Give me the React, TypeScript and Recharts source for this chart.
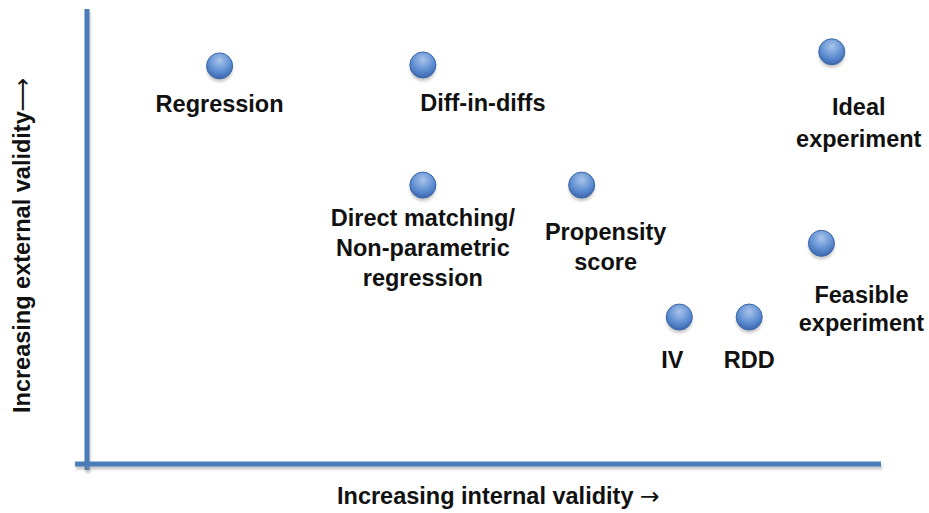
import { ScatterChart, Scatter, XAxis, YAxis, ReferenceLine } from 'recharts'

// methods placed by how much internal / external validity they offer
const METHODS = [
  'Regression',
  'Diff-in-diffs',
  'Ideal\nexperiment',
  'Direct matching/\nNon-parametric\nregression',
  'Propensity\nscore',
  'Feasible\nexperiment',
  'IV',
  'RDD',
]
const INTERNAL = [16.7, 42.3, 93.8, 42.3, 62.3, 92.5, 74.6, 83.4]
const EXTERNAL = [87.5, 87.7, 90.6, 61.3, 61.3, 48.5, 32.3, 32.3]

// label placement relative to its dot (px), first line centre
const LABEL_DX = [0, 60, 27, 0, 24, 40, -7, 0]
const LABEL_DY = [38, 38, 55, 33, 47, 52, 43, 43]
const LINE_GAP = [30, 30, 32, 30, 30, 28, 30, 30]

const W = 929
const H = 513
const BLUE = '#4a7ebb'
const FONT = '"Liberation Sans", Arial, sans-serif'
const ARROW_FONT = '"DejaVu Sans", sans-serif'

const data = METHODS.map((m, i) => ({ name: m, x: INTERNAL[i], y: EXTERNAL[i], i }))

function Dot(props: any) {
  const { cx, cy, payload } = props
  const lines = String(payload.name).split('\n')
  const dx = LABEL_DX[payload.i]
  const dy = LABEL_DY[payload.i]
  const gap = LINE_GAP[payload.i]
  return (
    <g>
      <circle cx={cx} cy={cy + 3} r={13} fill="#999" opacity={0.55} filter="url(#blur)" />
      <circle cx={cx} cy={cy} r={13} fill="url(#dotGrad)" stroke="#3b67a8" strokeWidth={1} />
      <text textAnchor="middle" dominantBaseline="central" fontFamily={FONT} fontWeight="bold" fontSize={23.5} fill="#111">
        {lines.map((l, k) => (
          <tspan key={k} x={cx + dx} y={cy + dy + k * gap}>{l}</tspan>
        ))}
      </text>
    </g>
  )
}

export default function App() {
  return (
    <div style={{ position: 'absolute', left: 0, top: 0, background: '#fff' }}>
      <ScatterChart width={W} height={H} margin={{ top: 9, right: 48, bottom: 49, left: 87 }}>
        <defs>
          <radialGradient id="dotGrad" cx="50%" cy="30%" r="70%">
            <stop offset="0%" stopColor="#a9c4ea" />
            <stop offset="60%" stopColor="#5f8fd2" />
            <stop offset="100%" stopColor="#3a66ad" />
          </radialGradient>
          <filter id="blur" x="-50%" y="-50%" width="200%" height="200%">
            <feGaussianBlur stdDeviation="1.5" />
          </filter>
          <filter id="lineShadow" filterUnits="userSpaceOnUse" x="0" y="0" width={W} height={H}>
            <feDropShadow dx="1" dy="3" stdDeviation="1" floodColor="#888" floodOpacity="0.45" />
          </filter>
        </defs>
        <XAxis type="number" dataKey="x" domain={[0, 100]} hide />
        <YAxis type="number" dataKey="y" domain={[0, 100]} hide />
        <ReferenceLine segment={[{ x: 0, y: -1.3 }, { x: 0, y: 100 }]} ifOverflow="visible" stroke={BLUE} strokeWidth={5} filter="url(#lineShadow)" />
        <ReferenceLine segment={[{ x: -1.5, y: 0 }, { x: 100, y: 0 }]} ifOverflow="visible" stroke={BLUE} strokeWidth={5} filter="url(#lineShadow)" />
        <Scatter data={data} shape={Dot} isAnimationActive={false} />
        <text x={337} y={496} textAnchor="start" dominantBaseline="central" fontFamily={FONT} fontWeight="bold" fontSize={23.5} fill="#111">
          Increasing internal validity <tspan fontFamily={ARROW_FONT} fontWeight="normal">→</tspan>
        </text>
        <text x={22} y={413} transform="rotate(-90 22 413)" textAnchor="start" dominantBaseline="central" fontFamily={FONT} fontWeight="bold" fontSize={23.5} fill="#111">
          Increasing external validity<tspan fontFamily={ARROW_FONT} fontWeight="normal">⟶</tspan>
        </text>
      </ScatterChart>
    </div>
  )
}
